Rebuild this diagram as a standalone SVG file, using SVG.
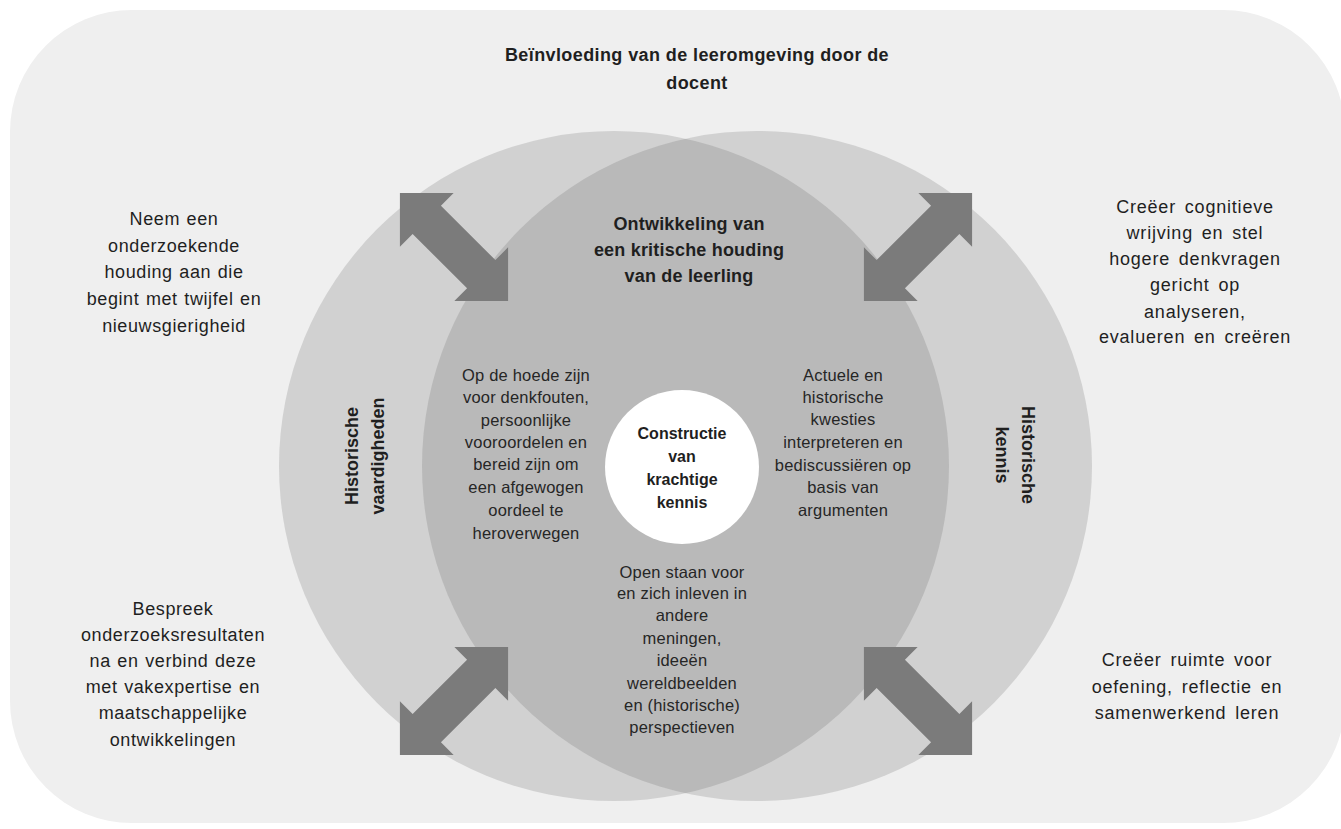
<svg xmlns="http://www.w3.org/2000/svg" width="1341" height="829" viewBox="0 0 1341 829">
  <defs>
    <style>
      .t { font-family: "Liberation Sans", Arial, sans-serif; fill: #1f1f1f; text-anchor: middle; }
      .side { font-size: 18px; letter-spacing: 0.6px; word-spacing: 1px; }
      .sideR { font-size: 18px; letter-spacing: 0.8px; word-spacing: 3px; }
      .inner { font-size: 16.5px; letter-spacing: 0.2px; fill: #262626; }
      .b { font-weight: bold; }
      .arrow { fill: #7b7b7b; }
    </style>
    <clipPath id="clipLeft">
      <circle cx="614" cy="466" r="335"/>
    </clipPath>
    <polygon id="dbl" points="-76.5,0 -38.5,-38 -38.5,-20 38.5,-20 38.5,-38 76.5,0 38.5,38 38.5,20 -38.5,20 -38.5,38"/>
  </defs>

  <rect x="0" y="0" width="1341" height="829" fill="#ffffff"/>
  <g id="frame">
    <rect x="10" y="10" width="1335" height="813" rx="122" ry="122" fill="#efefef"/>
    <text class="t b" x="697" y="61" font-size="18" letter-spacing="0.4">Beïnvloeding van de leeromgeving door de</text>
    <text class="t b" x="697" y="89" font-size="18" letter-spacing="0.4">docent</text>
  </g>

  <g id="circle-vaardigheden">
    <circle cx="614" cy="466" r="335" fill="#d1d1d1"/>
  </g>
  <g id="circle-kennis">
    <circle cx="757" cy="466" r="335" fill="#d1d1d1"/>
  </g>
  <g id="intersection-houding">
    <circle cx="757" cy="466" r="335" fill="#b9b9b9" clip-path="url(#clipLeft)"/>
    <text class="t b" x="689" y="230" font-size="18" letter-spacing="0.2">Ontwikkeling van</text>
    <text class="t b" x="689" y="256" font-size="18" letter-spacing="0.2">een kritische houding</text>
    <text class="t b" x="689" y="282" font-size="18" letter-spacing="0.2">van de leerling</text>
  </g>

  <g id="label-vaardigheden">
    <text class="t b" font-size="18" transform="translate(358,456) rotate(-90)">Historische</text>
    <text class="t b" font-size="18" transform="translate(384,456) rotate(-90)">vaardigheden</text>
  </g>
  <g id="label-kennis">
    <text class="t b" font-size="18" transform="translate(1022,455) rotate(90)">Historische</text>
    <text class="t b" font-size="18" transform="translate(996,455) rotate(90)">kennis</text>
  </g>

  <g id="center-kennis">
    <circle cx="682" cy="467" r="77" fill="#ffffff"/>
    <text class="t b" x="682" y="439" font-size="16">Constructie</text>
    <text class="t b" x="682" y="462" font-size="16">van</text>
    <text class="t b" x="682" y="485" font-size="16">krachtige</text>
    <text class="t b" x="682" y="508" font-size="16">kennis</text>
  </g>

  <g id="text-denkfouten" class="t inner">
    <text x="526" y="381">Op de hoede zijn</text>
    <text x="526" y="403">voor denkfouten,</text>
    <text x="526" y="426">persoonlijke</text>
    <text x="526" y="448">vooroordelen en</text>
    <text x="526" y="470">bereid zijn om</text>
    <text x="526" y="493">een afgewogen</text>
    <text x="526" y="516">oordeel te</text>
    <text x="526" y="539">heroverwegen</text>
  </g>

  <g id="text-kwesties" class="t inner">
    <text x="843" y="381">Actuele en</text>
    <text x="843" y="403">historische</text>
    <text x="843" y="425">kwesties</text>
    <text x="843" y="448">interpreteren en</text>
    <text x="843" y="471">bediscussiëren op</text>
    <text x="843" y="493">basis van</text>
    <text x="843" y="516">argumenten</text>
  </g>

  <g id="text-perspectieven" class="t inner">
    <text x="682" y="578">Open staan voor</text>
    <text x="682" y="599">en zich inleven in</text>
    <text x="682" y="621">andere</text>
    <text x="682" y="644">meningen,</text>
    <text x="682" y="666">ideeën</text>
    <text x="682" y="689">wereldbeelden</text>
    <text x="682" y="711">en (historische)</text>
    <text x="682" y="733">perspectieven</text>
  </g>

  <g id="text-top-left" class="t side">
    <text x="174" y="225">Neem een</text>
    <text x="174" y="252">onderzoekende</text>
    <text x="174" y="278">houding aan die</text>
    <text x="174" y="305">begint met twijfel en</text>
    <text x="174" y="332">nieuwsgierigheid</text>
  </g>

  <g id="text-top-right" class="t sideR">
    <text x="1195" y="213">Creëer cognitieve</text>
    <text x="1195" y="239">wrijving en stel</text>
    <text x="1195" y="265">hogere denkvragen</text>
    <text x="1195" y="291">gericht op</text>
    <text x="1195" y="318">analyseren,</text>
    <text x="1195" y="343">evalueren en creëren</text>
  </g>

  <g id="text-bottom-left" class="t side">
    <text x="173" y="615">Bespreek</text>
    <text x="173" y="641">onderzoeksresultaten</text>
    <text x="173" y="667">na en verbind deze</text>
    <text x="173" y="693">met vakexpertise en</text>
    <text x="173" y="719">maatschappelijke</text>
    <text x="173" y="746">ontwikkelingen</text>
  </g>

  <g id="text-bottom-right" class="t sideR">
    <text x="1187" y="666">Creëer ruimte voor</text>
    <text x="1187" y="693">oefening, reflectie en</text>
    <text x="1187" y="719">samenwerkend leren</text>
  </g>

  <g id="connectors">
    <use href="#dbl" class="arrow" transform="translate(454,247) rotate(45)"/>
    <use href="#dbl" class="arrow" transform="translate(918,247) rotate(-45)"/>
    <use href="#dbl" class="arrow" transform="translate(454,701) rotate(-45)"/>
    <use href="#dbl" class="arrow" transform="translate(918,701) rotate(45)"/>
  </g>
</svg>
